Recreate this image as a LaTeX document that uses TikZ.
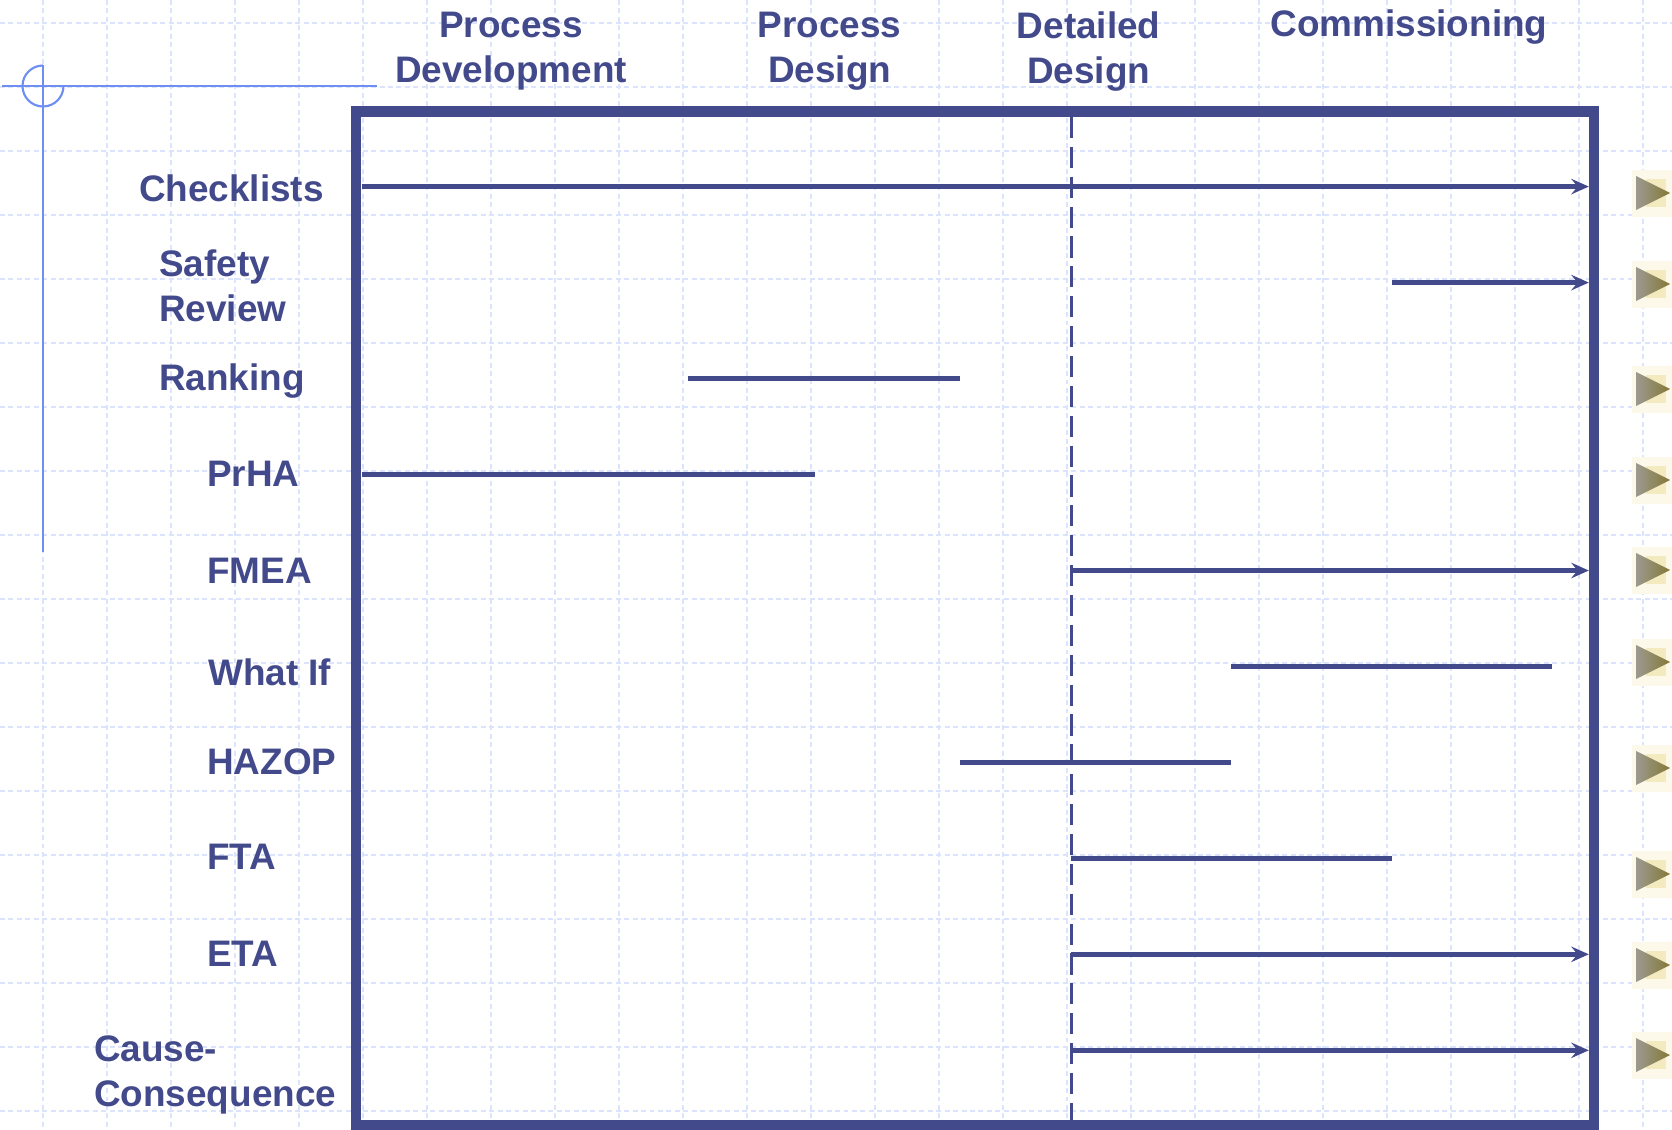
\documentclass[tikz,border=0pt]{standalone}
\usepackage{fontspec}
\setmainfont{Liberation Sans}
\usepackage{xcolor}
\usepackage{tikz}
\usetikzlibrary{arrows.meta}

\definecolor{navy}{HTML}{434A8C}
\definecolor{gridblue}{HTML}{DCE3FC}
\definecolor{markblue}{HTML}{6E8EF2}
\definecolor{glow}{HTML}{FCF8EA}
\definecolor{glowin}{HTML}{F4EAC0}
\definecolor{trigray}{HTML}{9C9A90}
\definecolor{olive}{HTML}{857836}

\begin{document}
\begin{tikzpicture}[>={Stealth[length=5pt,width=4.4pt,inset=1.8pt]},
  font=\bfseries\fontsize{10.5}{12.8}\selectfont,
  lbl/.style={anchor=base west,inner sep=0pt,text=navy,align=left},
  phase/.style={anchor=base,inner sep=0pt,text=navy,align=center},
  bar/.style={navy,line width=1.4pt},
  span/.style={bar,->},
  guide/.style={markblue,line width=0.6pt}]
 \useasboundingbox (0,0) rectangle (16.72,-11.29);
 \fill[white] (0,0) rectangle (16.72,-11.29);
 % background grid
 \foreach \k in {0,...,25}
  \draw[gridblue,line width=0.55pt,dash pattern=on 1.4pt off 1pt] (0.43+0.64*\k,0) -- (0.43+0.64*\k,-11.29);
 \foreach \k in {0,...,17}
  \draw[gridblue,line width=0.55pt,dash pattern=on 1.4pt off 1pt] (0,-0.23-0.64*\k) -- (16.72,-0.23-0.64*\k);
 % corner mark
 \draw[guide] (0.02,-0.86) -- (3.77,-0.86);
 \draw[guide] (0.43,-0.65) -- (0.43,-5.52);
 \draw[guide] (0.43,-0.655) arc[start angle=90,end angle=360,radius=0.205];
 % phases (base = last line)
 \node[phase] (pdev) at (5.11,-0.822) {Process\\Development};
 \node[phase] (pdes) at (8.296,-0.822) {Process\\Design};
 \node[phase] (ddes) at (10.887,-0.832) {Detailed\\Design};
 \node[phase] (comm) at (14.09,-0.367) {Commissioning};
 % frame and design cut
 \draw[navy,line width=3pt] (3.562,-1.117) rectangle (15.94,-11.255);
 \coordinate (top) at (0,-1.17);
 \coordinate (bot) at (0,-11.2);
 % columns
 \coordinate (c0) at (3.615,0);
 \coordinate (c1) at (6.88,0);
 \coordinate (c2) at (8.15,0);
 \coordinate (c3) at (9.60,0);
 \coordinate (c4) at (10.71,0);
 \coordinate (c5) at (12.31,0);
 \coordinate (c6) at (13.92,0);
 \coordinate (c7) at (15.515,0);
 \coordinate (c8) at (15.888,0);
 \draw[navy,line width=0.85pt,dash pattern=on 6pt off 2.5pt] (c4 |- top) -- (c4 |- bot);
 % rows
 \foreach \y [count=\i] in {1.866,2.826,3.785,4.745,5.705,6.664,7.624,8.584,9.543,10.503}
  \coordinate (r\i) at (0,-\y);
 % methods
 \node[lbl] (chk) at (1.385,-2.017) {Checklists};
 \node[lbl] (safety) at (1.585,-3.217) {Safety\\Review};
 \node[lbl] (rank) at (1.585,-3.907) {Ranking};
 \node[lbl] (prha) at (2.065,-4.867) {PrHA};
 \node[lbl] (fmea) at (2.065,-5.83) {FMEA};
 \node[lbl] (whatif) at (2.075,-6.85) {What If};
 \node[lbl] (hazop) at (2.065,-7.74) {HAZOP};
 \node[lbl] (fta) at (2.065,-8.695) {FTA};
 \node[lbl] (eta) at (2.065,-9.665) {ETA};
 \node[lbl] (cc) at (0.935,-11.067) {Cause-\\Consequence};
 % where each method applies
 \draw[span] (r1 -| c0) -- (r1 -| c8);
 \draw[span] (r2 -| c6) -- (r2 -| c8);
 \draw[bar] (r3 -| c1) -- (r3 -| c3);
 \draw[bar] (r4 -| c0) -- (r4 -| c2);
 \draw[span] (r5 -| c4) -- (r5 -| c8);
 \draw[bar] (r6 -| c5) -- (r6 -| c7);
 \draw[bar] (r7 -| c3) -- (r7 -| c5);
 \draw[bar] (r8 -| c4) -- (r8 -| c6);
 \draw[span] (r9 -| c4) -- (r9 -| c8);
 \draw[span] (r10 -| c4) -- (r10 -| c8);
 % bullets
 \foreach \y in {1.93,2.84,3.89,4.80,5.70,6.62,7.68,8.74,9.65,10.55} {
  \fill[glow] (16.32,-\y+0.23) rectangle (16.72,-\y-0.24);
  \fill[glowin] (16.46,-\y+0.14) rectangle (16.66,-\y-0.14);
  \shade[left color=trigray,right color=olive] (16.36,-\y+0.17) -- (16.70,-\y) -- (16.36,-\y-0.17) -- cycle;
 }
\end{tikzpicture}
\end{document}
